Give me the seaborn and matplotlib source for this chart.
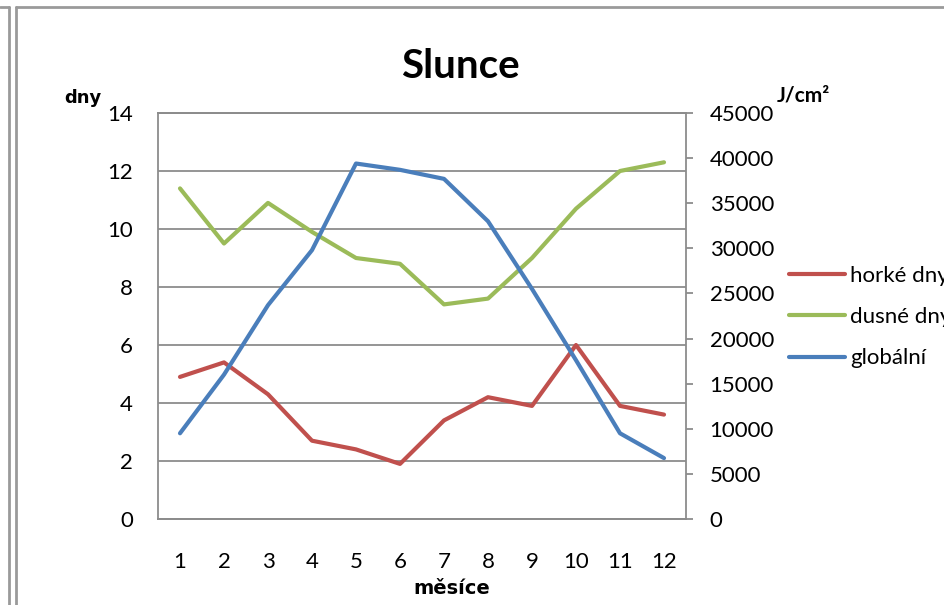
import pandas as pd
import seaborn as sns
import matplotlib.pyplot as plt
from matplotlib.lines import Line2D

# --- Data ---
months = [1, 2, 3, 4, 5, 6, 7, 8, 9, 10, 11, 12]
horke_dny = [4.9, 5.4, 4.3, 2.7, 2.4, 1.9, 3.4, 4.2, 3.9, 6.0, 3.9, 3.6]
dusne_dny = [11.4, 9.5, 10.9, 9.9, 9.0, 8.8, 7.4, 7.6, 9.0, 10.7, 12.0, 12.3]
globalni = [9500, 16000, 23700, 29800, 39400, 38700, 37700, 33000, 25500, 17600, 9500, 6750]

left_ticks = [0, 2, 4, 6, 8, 10, 12, 14]
right_ticks = [0, 5000, 10000, 15000, 20000, 25000, 30000, 35000, 40000, 45000]

RED = "#C0504D"
GREEN = "#9BBB59"
BLUE = "#4A7EBB"
GRID = "#8C8C8C"

df = pd.DataFrame({"mesic": months, "horke": horke_dny, "dusne": dusne_dny, "glob": globalni})

sns.set_style("white")
plt.rcParams['font.family'] = ['Lato', 'DejaVu Sans']
plt.rcParams['text.color'] = 'black'
plt.rcParams['xtick.color'] = 'black'
plt.rcParams['ytick.color'] = 'black'

fig = plt.figure(figsize=(9.45, 6.05), dpi=100)
ax = fig.add_axes([158 / 945, 1 - 519 / 605, 528 / 945, 406 / 605])
ax2 = ax.twinx()

# --- Lines ---
sns.lineplot(data=df, x="mesic", y="horke", ax=ax, color=RED, lw=3, label="horké dny", legend=False)
sns.lineplot(data=df, x="mesic", y="dusne", ax=ax, color=GREEN, lw=3, label="dusné dny", legend=False)
sns.lineplot(data=df, x="mesic", y="glob", ax=ax2, color=BLUE, lw=3, label="globální", legend=False)
for a in (ax, ax2):
    for ln in a.get_lines():
        ln.set_solid_capstyle("round")
        ln.set_solid_joinstyle("round")

# --- Axes ---
ax.set_xlim(0.5, 12.5)
ax.set_ylim(0, 14)
ax2.set_ylim(0, 45000)
ax.set_xticks(months)
ax.set_xticklabels([str(m) for m in months], fontsize=16)
ax.set_yticks(left_ticks)
ax.set_yticklabels([str(t) for t in left_ticks], fontsize=16)
ax2.set_yticks(right_ticks)
ax2.set_yticklabels([str(t) for t in right_ticks], fontsize=16)
ax.set_xlabel("")
ax.set_ylabel("")
ax2.set_ylabel("")

ax.grid(axis="y", color=GRID, lw=1.3)
ax.set_axisbelow(True)
ax.tick_params(axis="x", length=0, pad=24)
ax.tick_params(axis="y", length=0, pad=18)
ax2.tick_params(axis="y", length=5, width=1.3, color=GRID, labelcolor="black", pad=12, direction="out")

for a in (ax, ax2):
    for s in a.spines.values():
        s.set_color(GRID)
        s.set_linewidth(1.3)
ax.spines["right"].set_visible(False)
ax2.spines["left"].set_visible(False)

# --- Texts ---
fig.text(460 / 945, 1 - 66 / 605, "Slunce", ha="center", va="center",
         fontsize=29, fontweight="bold")
fig.text(83 / 945, 1 - 98 / 605, "dny", ha="center", va="center", fontsize=13,
         fontweight="bold", family=['Liberation Sans Narrow', 'DejaVu Sans'])
fig.text(452 / 945, 1 - 588 / 605, "měsíce", ha="center", va="center", fontsize=14,
         fontweight="bold", family=['Liberation Sans Narrow', 'DejaVu Sans'])
fig.text(803 / 945, 1 - 95 / 605, "J/cm²", ha="center", va="center", fontsize=15,
         fontweight="bold")

# --- Legend ---
handles = ax.get_lines()[:2] + ax2.get_lines()[:1]
labels = ["horké dny", "dusné dny", "globální"]
fig.legend(handles, labels, loc="upper left", bbox_to_anchor=(778 / 945, 1 - 255 / 605),
           frameon=False, fontsize=16, handlelength=2.5, handletextpad=0.25,
           labelspacing=0.95, borderpad=0)

# --- Chart frame ---
frame = "#9A9A9A"
fig.add_artist(Line2D([16 / 945, 16 / 945], [0, 1 - 7 / 605], transform=fig.transFigure, color=frame, lw=2))
fig.add_artist(Line2D([16 / 945, 1], [1 - 7 / 605, 1 - 7 / 605], transform=fig.transFigure, color=frame, lw=2))
fig.add_artist(Line2D([9 / 945, 9 / 945], [0, 1 - 7 / 605], transform=fig.transFigure, color=frame, lw=2))
fig.add_artist(Line2D([0, 9 / 945], [1 - 7 / 605, 1 - 7 / 605], transform=fig.transFigure, color=frame, lw=2))

fig.savefig("out.png", dpi=100)
